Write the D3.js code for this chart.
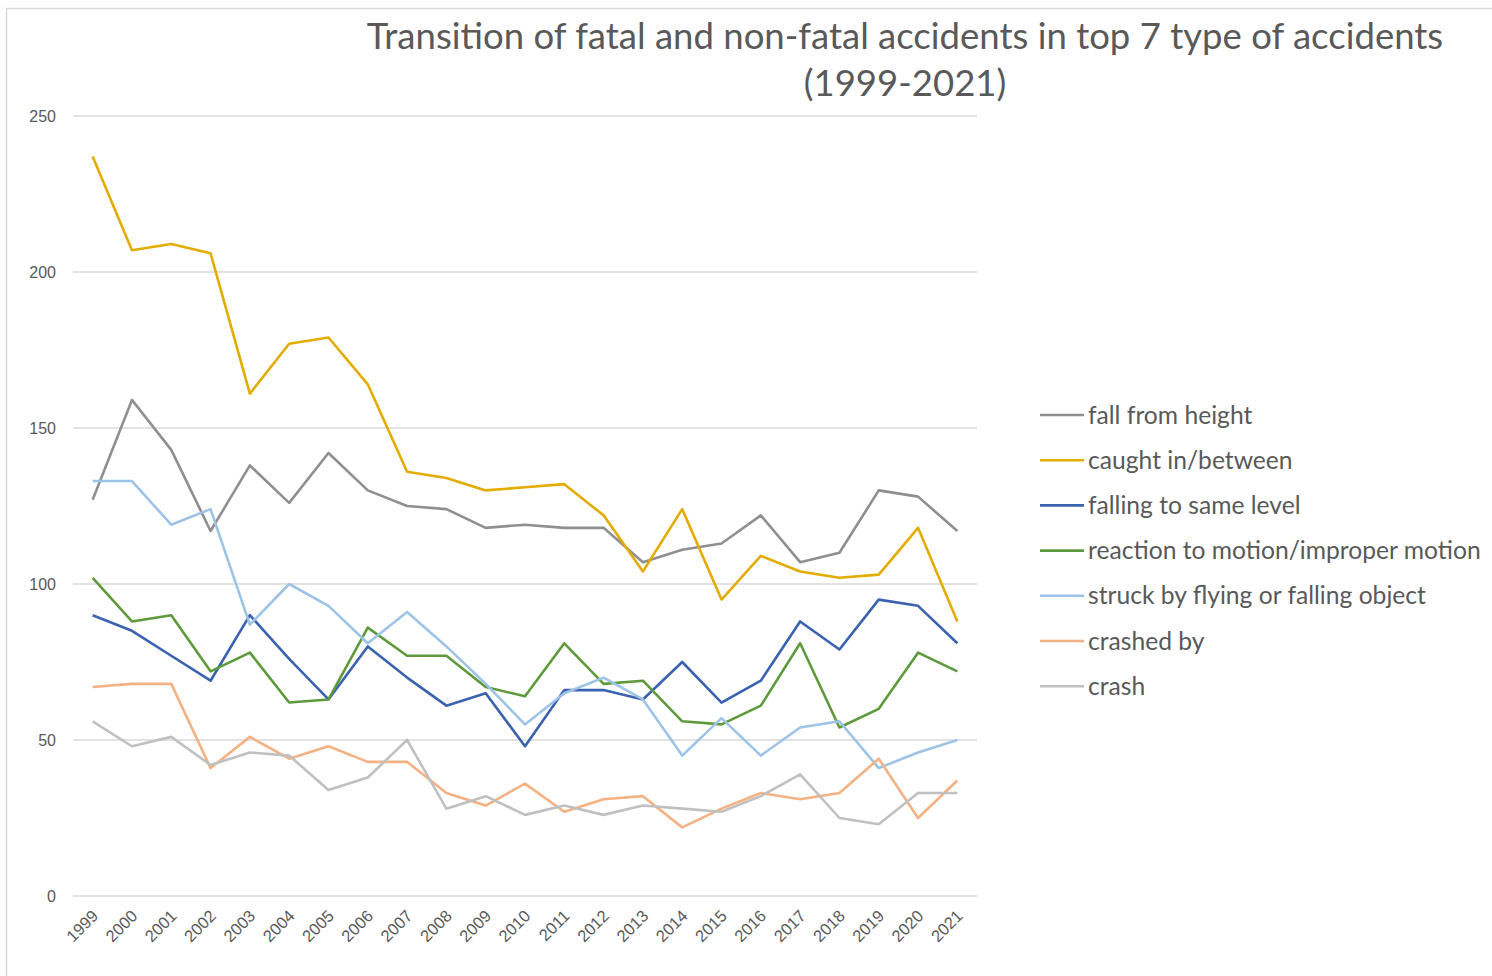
<!DOCTYPE html>
<html>
<head>
<meta charset="utf-8">
<script src="https://cdn.jsdelivr.net/npm/d3@7"></script>
<style>
  html, body { margin: 0; padding: 0; background: #fff; }
  svg { display: block; font-family: Lato, "Open Sans", sans-serif; }
</style>
</head>
<body>
<svg id="chart" width="1492" height="976"></svg>
<script>
const years = ["1999","2000","2001","2002","2003","2004","2005","2006","2007","2008","2009","2010","2011","2012","2013","2014","2015","2016","2017","2018","2019","2020","2021"];
const seriesNames = ["fall from height","caught in/between","falling to same level","reaction to motion/improper motion","struck by flying or falling object","crashed by","crash"];
const fallFromHeight   = [127,159,143,117,138,126,142,130,125,124,118,119,118,118,107,111,113,122,107,110,130,128,117];
const caughtInBetween  = [237,207,209,206,161,177,179,164,136,134,130,131,132,122,104,124,95,109,104,102,103,118,88];
const fallingSameLevel = [90,85,77,69,90,76,63,80,70,61,65,48,66,66,63,75,62,69,88,79,95,93,81];
const reactionMotion   = [102,88,90,72,78,62,63,86,77,77,67,64,81,68,69,56,55,61,81,54,60,78,72];
const struckByObject   = [133,133,119,124,87,100,93,81,91,80,68,55,65,70,63,45,57,45,54,56,41,46,50];
const crashedBy        = [67,68,68,41,51,44,48,43,43,33,29,36,27,31,32,22,28,33,31,33,44,25,37];
const crash            = [56,48,51,42,46,45,34,38,50,28,32,26,29,26,29,28,27,32,39,25,23,33,33];
const yTicks = [0,50,100,150,200,250];
const titleLines = ["Transition of fatal and non-fatal accidents in top 7 type of accidents","(1999-2021)"];

const seriesValues = [fallFromHeight, caughtInBetween, fallingSameLevel, reactionMotion, struckByObject, crashedBy, crash];
const colors = ["#8f8f8f","#e3ac00","#3a62b0","#5e9a3c","#9dc3e6","#f4b183","#c0c0c0"];

const svg = d3.select("#chart");
const textColor = "#595959";

// outer chart border
svg.append("rect").attr("x",6.5).attr("y",8.5).attr("width",1600).attr("height",1200)
  .attr("fill","none").attr("stroke","#d9d9d9").attr("stroke-width",1.5);

const x = d3.scalePoint().domain(years).range([73,977]).padding(0.5);
const y = d3.scaleLinear().domain([0,250]).range([896,116]);

// gridlines
svg.append("g").selectAll("line").data(yTicks).join("line")
  .attr("x1",73).attr("x2",977)
  .attr("y1",d=>y(d)).attr("y2",d=>y(d))
  .attr("stroke","#d9d9d9").attr("stroke-width",1.5);

// y axis labels
const yAxis = d3.axisLeft(y).tickValues(yTicks).tickSize(0).tickPadding(0);
const yg = svg.append("g").attr("transform","translate(56,0)").call(yAxis);
yg.select(".domain").remove();
yg.selectAll("text").attr("fill",textColor).style("font-size","16px").attr("dy","0.35em");

// x axis labels
const xAxis = d3.axisBottom(x).tickSize(0).tickPadding(0);
const xg = svg.append("g").attr("transform","translate(0,896)").call(xAxis);
xg.select(".domain").remove();
xg.selectAll("text")
  .attr("fill",textColor).style("font-size","16.5px")
  .attr("text-anchor","end")
  .attr("dy",null).attr("y",null)
  .attr("transform","translate(6,21) rotate(-45)");

// lines
const line = d3.line().x((d,i)=>x(years[i])).y(d=>y(d));
svg.append("g").selectAll("path").data(seriesValues).join("path")
  .attr("d",d=>line(d))
  .attr("fill","none")
  .attr("stroke",(d,i)=>colors[i])
  .attr("stroke-width",2.6)
  .attr("stroke-linejoin","round");

// title
const title = svg.append("g");
title.selectAll("text").data(titleLines).join("text")
  .attr("x",905).attr("y",(d,i)=>49+i*47)
  .attr("text-anchor","middle")
  .attr("fill",textColor)
  .style("font-size","32px")
  .text(d=>d);
{
  const t0 = title.select("text").node();
  const w = t0.getComputedTextLength();
  const fs = 32 * 1077 / w;
  title.selectAll("text").style("font-size", fs + "px");
}

// legend
const leg = svg.append("g");
const rows = leg.selectAll("g").data(seriesNames).join("g")
  .attr("transform",(d,i)=>`translate(1040,${415 + i*45.2})`);
rows.append("line").attr("x1",0).attr("x2",44).attr("y1",0).attr("y2",0)
  .attr("stroke",(d,i)=>colors[i]).attr("stroke-width",2.6);
rows.append("text").attr("x",48).attr("y",0).attr("dy","0.35em")
  .attr("fill",textColor).style("font-size","22px").text(d=>d);
{
  const longest = rows.selectAll("text").filter(d=>d===seriesNames[3]).node();
  const w = longest.getComputedTextLength();
  const fs = 22 * 393 / w;
  rows.selectAll("text").style("font-size", fs + "px");
}
</script>
</body>
</html>
